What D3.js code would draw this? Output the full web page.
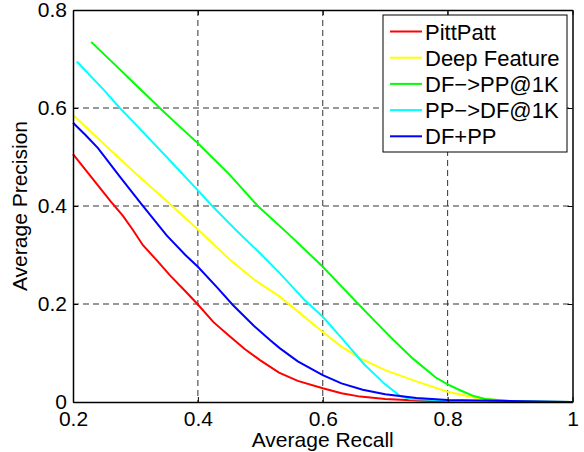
<!DOCTYPE html>
<html>
<head>
<meta charset="utf-8">
<script src="https://cdn.jsdelivr.net/npm/d3@7"></script>
<style>
  body { margin: 0; background: #fff; }
  text { font-family: "Liberation Sans", Arial, Helvetica, sans-serif; fill: #000; }
</style>
</head>
<body>
<svg id="chart"></svg>
<script>
// data (recall, precision)
var seriesNames = ["PittPatt", "Deep Feature", "DF\u2212>PP@1K", "PP\u2212>DF@1K", "DF+PP"];
var seriesColors = ["#ff0000", "#ffff00", "#00ff00", "#00ffff", "#0000ff"];

var pittPatt = [[0.2,0.506],[0.23,0.458],[0.26,0.41],[0.28,0.38],[0.296,0.351],[0.312,0.32],[0.335,0.288],[0.355,0.259],[0.38,0.226],[0.4,0.199],[0.425,0.163],[0.45,0.135],[0.475,0.108],[0.5,0.085],[0.53,0.06],[0.56,0.043],[0.6,0.028],[0.63,0.018],[0.66,0.011],[0.7,0.006],[0.75,0.003],[0.8,0.001],[0.9,0],[1,0]];
var deepFeature = [[0.2,0.586],[0.25,0.526],[0.3,0.467],[0.35,0.41],[0.4,0.352],[0.45,0.292],[0.49,0.25],[0.53,0.216],[0.56,0.185],[0.6,0.143],[0.63,0.113],[0.66,0.089],[0.7,0.065],[0.75,0.042],[0.8,0.021],[0.85,0.007],[0.9,0.002],[0.95,0.0005],[1,0]];
var dfToPP = [[0.229,0.735],[0.27,0.685],[0.3,0.648],[0.339,0.6],[0.37,0.563],[0.4,0.528],[0.45,0.465],[0.496,0.4],[0.55,0.337],[0.6,0.276],[0.63,0.236],[0.657,0.2],[0.685,0.163],[0.712,0.128],[0.744,0.089],[0.781,0.05],[0.8,0.036],[0.82,0.024],[0.84,0.013],[0.86,0.006],[0.9,0.002],[0.95,0.0005],[1,0]];
var ppToDF = [[0.206,0.695],[0.25,0.636],[0.275,0.6],[0.3,0.567],[0.35,0.5],[0.4,0.432],[0.423,0.4],[0.46,0.352],[0.5,0.303],[0.531,0.263],[0.571,0.208],[0.6,0.174],[0.63,0.131],[0.667,0.076],[0.7,0.036],[0.723,0.013],[0.74,0.006],[0.8,0.003],[0.9,0.001],[1,0]];
var dfPlusPP = [[0.2,0.57],[0.22,0.545],[0.24,0.518],[0.275,0.46],[0.309,0.405],[0.35,0.34],[0.38,0.3],[0.4,0.276],[0.43,0.235],[0.456,0.198],[0.49,0.155],[0.515,0.127],[0.531,0.11],[0.56,0.083],[0.6,0.055],[0.63,0.038],[0.664,0.025],[0.7,0.016],[0.75,0.008],[0.8,0.004],[0.9,0.002],[1,0]];

var xTicks = [0.2, 0.4, 0.6, 0.8, 1];
var yTicks = [0, 0.2, 0.4, 0.6, 0.8];

var allSeries = [pittPatt, deepFeature, dfToPP, ppToDF, dfPlusPP];

// *********************************************
// SETUP
// *********************************************
var width = 584, height = 452;
var margin = {left: 73, right: 11.5, top: 10, bottom: 50};
var pw = width - margin.left - margin.right,
    ph = height - margin.top - margin.bottom;

var svg = d3.select("#chart").attr("width", width).attr("height", height);
var g = svg.append("g").attr("transform", "translate(" + margin.left + "," + margin.top + ")");

var x = d3.scaleLinear().domain([0.2, 1]).range([0, pw]);
var y = d3.scaleLinear().domain([0, 0.8]).range([ph, 0]);

var fmt = function(d) { return d === 0 ? "0" : d === 1 ? "1" : d3.format(".1f")(d); };

// grid
g.append("g").selectAll("line").data(xTicks.slice(1, -1)).enter().append("line")
    .attr("x1", d => x(d)).attr("x2", d => x(d)).attr("y1", 0).attr("y2", ph)
    .attr("stroke", "#333").attr("stroke-dasharray", "6,4").attr("stroke-width", 1);
g.append("g").selectAll("line").data(yTicks.slice(1, -1)).enter().append("line")
    .attr("y1", d => y(d)).attr("y2", d => y(d)).attr("x1", 0).attr("x2", pw)
    .attr("stroke", "#333").attr("stroke-dasharray", "6,4").attr("stroke-width", 1);

// curves
var line = d3.line().x(d => x(d[0])).y(d => y(d[1]));
g.append("g").selectAll("path").data(allSeries).enter().append("path")
    .attr("d", line)
    .attr("fill", "none")
    .attr("stroke", (d, i) => seriesColors[i])
    .attr("stroke-width", 2);

// axes (inward ticks, box)
var tickLen = 5;
var axB = g.append("g").attr("transform", "translate(0," + ph + ")")
    .call(d3.axisBottom(x).tickValues(xTicks).tickFormat(fmt).tickSizeInner(-tickLen).tickSizeOuter(0).tickPadding(9));
var axL = g.append("g")
    .call(d3.axisLeft(y).tickValues(yTicks).tickFormat(fmt).tickSizeInner(-tickLen).tickSizeOuter(0).tickPadding(6));
var axT = g.append("g")
    .call(d3.axisTop(x).tickValues(xTicks).tickFormat("").tickSizeInner(-tickLen).tickSizeOuter(0));
var axR = g.append("g").attr("transform", "translate(" + pw + ",0)")
    .call(d3.axisRight(y).tickValues(yTicks).tickFormat("").tickSizeInner(-tickLen).tickSizeOuter(0));

[axB, axL, axT, axR].forEach(function(a) {
  a.selectAll("path").attr("stroke", "#000").attr("stroke-width", 1.5);
  a.selectAll("line").attr("stroke", "#000");
  a.selectAll("text").style("font-size", "21px").style("font-family", "'Liberation Sans', Arial, sans-serif");
});

// axis labels
svg.append("text")
    .attr("x", margin.left + pw / 2).attr("y", 447)
    .attr("text-anchor", "middle").style("font-size", "21px")
    .text("Average Recall");
svg.append("text")
    .attr("transform", "translate(27," + (margin.top + ph / 2) + ") rotate(-90)")
    .attr("text-anchor", "middle").style("font-size", "21px")
    .text("Average Precision");

// legend
var lg = svg.append("g").attr("transform", "translate(383,15)");
lg.append("rect").attr("width", 184).attr("height", 137)
    .attr("fill", "#fff").attr("stroke", "#000").attr("stroke-width", 1);
var rows = lg.selectAll("g.row").data(seriesNames).enter().append("g")
    .attr("transform", (d, i) => "translate(0," + (16.5 + i * 26.2) + ")");
rows.append("line").attr("x1", 7).attr("x2", 39).attr("y1", 0).attr("y2", 0)
    .attr("stroke", (d, i) => seriesColors[i]).attr("stroke-width", 2);
rows.append("text").attr("x", 42).attr("y", 8).style("font-size", "22px").text(d => d);
</script>
</body>
</html>
